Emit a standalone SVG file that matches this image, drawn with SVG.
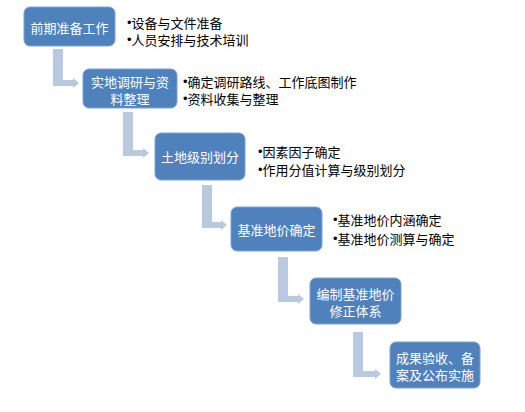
<svg xmlns="http://www.w3.org/2000/svg" width="525" height="412" viewBox="0 0 525 412">
<style>
.box{fill:#4F81BD;stroke:#7FA3D2;stroke-width:1}
.bt{fill:#ffffff;font-family:"Noto Sans CJK SC","Noto Sans",sans-serif;font-size:13px;text-anchor:middle;dominant-baseline:central}
.lt{fill:#000000;font-family:"Noto Sans CJK SC","Noto Sans",sans-serif;font-size:13px;dominant-baseline:central}
.b{font-family:"Liberation Sans",sans-serif}
.conn{fill:#B9C9E0;stroke:none}
</style>
<rect width="525" height="412" fill="#ffffff"/>
<g id="connectors">
<path class="conn" d="M53,49 H63 V80 H73 V78 L79,83 L73,88 V86 H53 Z"/>
<path class="conn" d="M123,112 H133 V150 H143 V148 L149,153 L143,158 V156 H123 Z"/>
<path class="conn" d="M202,185 H212 V222 H221 V220 L227,225 L221,230 V228 H202 Z"/>
<path class="conn" d="M278,257 H288 V296 H298 V294 L304,299 L298,304 V302 H278 Z"/>
<path class="conn" d="M353,332 H363 V371 H375 V369 L381,374 L375,379 V377 H353 Z"/>
</g>
<g id="n1">
<rect class="box" x="24" y="7" width="91" height="39" rx="6"/>
<text class="bt" x="69.5" y="27">前期准备工作</text>
</g>
<g id="n1-list">
<text class="lt" x="127" y="22"><tspan class="b">•</tspan>设备与文件准备</text>
<text class="lt" x="127" y="39"><tspan class="b">•</tspan>人员安排与技术培训</text>
</g>
<g id="n2">
<rect class="box" x="83" y="69" width="94" height="39" rx="6"/>
<text class="bt" x="130" y="81">实地调研与资</text>
<text class="bt" x="130" y="98">料整理</text>
</g>
<g id="n2-list">
<text class="lt" x="183" y="81"><tspan class="b">•</tspan>确定调研路线、工作底图制作</text>
<text class="lt" x="183" y="98"><tspan class="b">•</tspan>资料收集与整理</text>
</g>
<g id="n3">
<rect class="box" x="155" y="133" width="90" height="47" rx="6"/>
<text class="bt" x="200" y="156">土地级别划分</text>
</g>
<g id="n3-list">
<text class="lt" x="258" y="151"><tspan class="b">•</tspan>因素因子确定</text>
<text class="lt" x="258" y="169"><tspan class="b">•</tspan>作用分值计算与级别划分</text>
</g>
<g id="n4">
<rect class="box" x="231" y="207" width="91" height="44" rx="6"/>
<text class="bt" x="276.5" y="229">基准地价确定</text>
</g>
<g id="n4-list">
<text class="lt" x="333" y="219"><tspan class="b">•</tspan>基准地价内涵确定</text>
<text class="lt" x="333" y="238"><tspan class="b">•</tspan>基准地价测算与确定</text>
</g>
<g id="n5">
<rect class="box" x="310" y="278" width="91" height="46" rx="6"/>
<text class="bt" x="355.5" y="293">编制基准地价</text>
<text class="bt" x="355.5" y="310">修正体系</text>
</g>
<g id="n6">
<rect class="box" x="390" y="342" width="90" height="46" rx="6"/>
<text class="bt" x="435" y="357">成果验收、备</text>
<text class="bt" x="435" y="374">案及公布实施</text>
</g>
</svg>
